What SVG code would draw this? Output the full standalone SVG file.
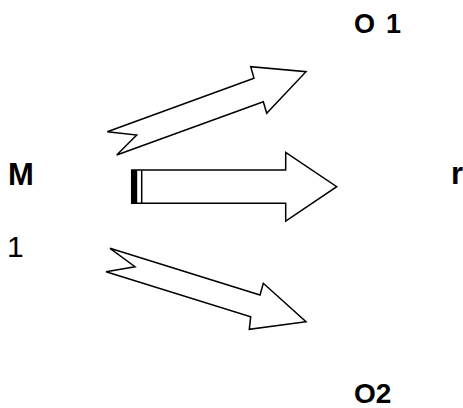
<svg xmlns="http://www.w3.org/2000/svg" width="463" height="408" viewBox="0 0 463 408">
<style>
.lbl{font-family:"Liberation Sans",Arial,sans-serif;fill:#000}
.b{font-weight:bold}
.arrow{fill:#fff;stroke:#000;stroke-width:1.5;stroke-linejoin:miter}
</style>
<rect width="463" height="408" fill="#fff"/>
<g id="O1"><text class="lbl b" x="354" y="33" font-size="27">O<tspan x="386">1</tspan></text></g>
<g id="M"><text class="lbl b" x="8" y="185" font-size="31">M</text></g>
<g id="one"><text class="lbl" x="7" y="257" font-size="30">1</text></g>
<g id="r"><text class="lbl b" x="451" y="184" font-size="31">r</text></g>
<g id="O2"><text class="lbl b" x="354" y="403" font-size="28">O2</text></g>
<g id="connectors">
<polygon class="arrow" points="107.3,131.7 254,78.3 250.7,66.7 306,71.7 266.7,113.3 263.3,101.7 116.7,155 136.7,135"/>
<polygon class="arrow" points="131.7,170 285.7,170 285.7,152.3 336.7,186.7 285.7,221 285.7,203.3 131.7,203.3"/>
<rect x="131.7" y="170" width="5.5" height="33.3" fill="#000"/>
<line x1="141.7" y1="170" x2="141.7" y2="203.3" stroke="#000" stroke-width="1.5"/>
<polygon class="arrow" points="110,248.3 260,295 263.3,283.3 306,321.7 249.3,329.3 250.7,316.7 106,271.7 135,266.7"/>
</g>
</svg>
